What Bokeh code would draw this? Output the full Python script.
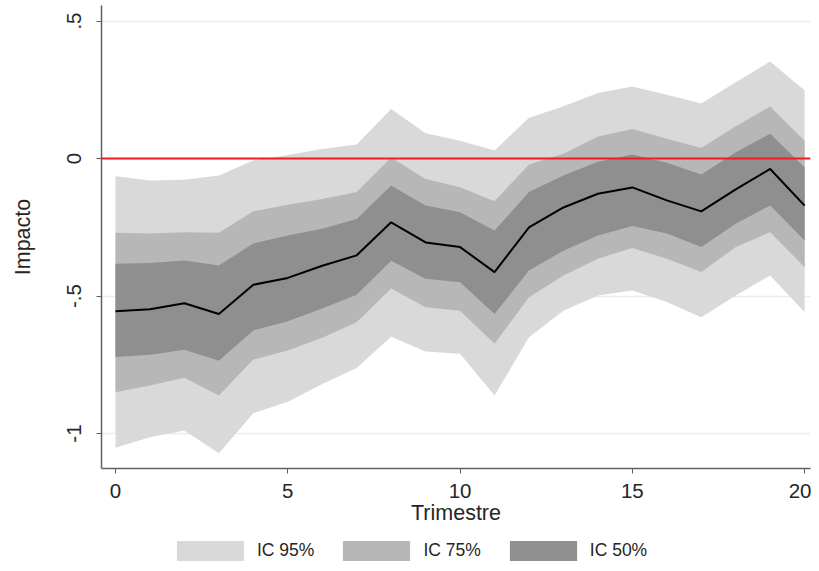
from bokeh.plotting import figure
from bokeh.models import (ColumnDataSource, Span, FixedTicker, Legend, LegendItem)
from bokeh.layouts import column
from bokeh.embed import file_html
from bokeh.resources import INLINE

# ---- data ----
trimestre = list(range(21))
impacto = [-0.555, -0.548, -0.526, -0.565, -0.459, -0.434, -0.390, -0.352, -0.232, -0.305, -0.322,
           -0.413, -0.250, -0.178, -0.128, -0.105, -0.152, -0.192, -0.112, -0.038, -0.171]
ic50_hi = [-0.383, -0.380, -0.371, -0.389, -0.309, -0.280, -0.255, -0.220, -0.098, -0.171, -0.195,
           -0.262, -0.122, -0.062, -0.012, 0.015, -0.015, -0.058, 0.023, 0.090, -0.033]
ic50_lo = [-0.722, -0.713, -0.695, -0.735, -0.625, -0.592, -0.545, -0.495, -0.372, -0.437, -0.450,
           -0.565, -0.407, -0.335, -0.280, -0.245, -0.273, -0.322, -0.237, -0.171, -0.298]
ic75_hi = [-0.270, -0.273, -0.268, -0.270, -0.192, -0.168, -0.147, -0.122, 0.004, -0.074, -0.104,
           -0.155, -0.022, 0.017, 0.080, 0.107, 0.072, 0.038, 0.117, 0.189, 0.065]
ic75_lo = [-0.850, -0.825, -0.797, -0.862, -0.731, -0.698, -0.652, -0.595, -0.473, -0.541, -0.553,
           -0.673, -0.504, -0.425, -0.364, -0.325, -0.364, -0.413, -0.322, -0.268, -0.395]
ic95_hi = [-0.064, -0.080, -0.077, -0.062, -0.007, 0.013, 0.035, 0.051, 0.180, 0.092, 0.065,
           0.029, 0.148, 0.190, 0.238, 0.262, 0.232, 0.200, 0.277, 0.353, 0.247]
ic95_lo = [-1.052, -1.013, -0.989, -1.072, -0.926, -0.884, -0.820, -0.762, -0.648, -0.702, -0.710,
           -0.862, -0.650, -0.553, -0.498, -0.480, -0.522, -0.577, -0.498, -0.425, -0.559]

x_ticks = [0, 5, 10, 15, 20]
y_ticks = [-1, -0.5, 0, 0.5]
y_tick_labels = {-1: "-1", -0.5: "-.5", 0: "0", 0.5: ".5"}
labels = ["IC 95%", "IC 75%", "IC 50%"]
band_cols = [("l95", "h95"), ("l75", "h75"), ("l50", "h50")]
band_colors = ["#d9d9d9", "#b7b7b7", "#8f8f8f"]

src = ColumnDataSource(dict(t=trimestre, m=impacto, h50=ic50_hi, l50=ic50_lo,
                            h75=ic75_hi, l75=ic75_lo, h95=ic95_hi, l95=ic95_lo))

FONT = "Liberation Sans"
TXT = "#262626"

p = figure(width=811, height=532, output_backend="svg", toolbar_location=None,
           x_range=(-0.406, 20.17), y_range=(-1.127, 0.5564),
           min_border_left=101, min_border_right=1, min_border_top=5, min_border_bottom=64)
p.outline_line_color = None
p.background_fill_color = "white"
p.border_fill_color = "white"

for (lo, hi), col in zip(band_cols, band_colors):
    p.varea(x="t", y1=lo, y2=hi, source=src, fill_color=col)
p.line(x="t", y="m", source=src, line_color="black", line_width=2)

p.add_layout(Span(location=0, dimension="width", line_color="#f01e1e", line_width=2))

# axes
p.xaxis.ticker = FixedTicker(ticks=x_ticks)
p.yaxis.ticker = FixedTicker(ticks=y_ticks)
p.yaxis.major_label_overrides = y_tick_labels
p.yaxis.major_label_orientation = "vertical"
p.xaxis.axis_label = "Trimestre"
p.yaxis.axis_label = "Impacto"
for ax in (p.xaxis, p.yaxis):
    ax.axis_line_color = "#606060"
    ax.axis_line_width = 1.5
    ax.major_tick_line_color = "#606060"
    ax.major_tick_out = 5
    ax.major_tick_in = 0
    ax.minor_tick_line_color = None
    ax.major_label_text_font = FONT
    ax.major_label_text_font_size = "20.5px"
    ax.major_label_text_color = TXT
    ax.axis_label_text_font = FONT
    ax.axis_label_text_font_size = "21.5px"
    ax.axis_label_text_font_style = "normal"
    ax.axis_label_text_color = TXT
p.xaxis.major_label_standoff = 10
p.xaxis.axis_label_standoff = 0
p.yaxis.major_label_standoff = 15
p.yaxis.axis_label_standoff = 30

p.xgrid.grid_line_color = None
p.ygrid.grid_line_color = "#ebebeb"
p.ygrid.grid_line_width = 1.5

# legend strip beneath the chart (its bands lie outside its view; only the keys show)
lg = figure(width=811, height=31, output_backend="svg", toolbar_location=None,
            x_range=(0, 1), y_range=(10, 11), min_border=0)
lg.axis.visible = False
lg.grid.visible = False
lg.outline_line_color = None
lg.border_fill_color = "white"
lg.background_fill_color = "white"
items = []
for lab, (lo, hi), col in zip(labels, band_cols, band_colors):
    r = lg.varea(x="t", y1=lo, y2=hi, source=src, fill_color=col)
    items.append(LegendItem(label=lab, renderers=[r]))
legend = Legend(items=items, orientation="horizontal", location=(67, 0),
                glyph_width=84, glyph_height=25, label_standoff=5, spacing=20,
                label_text_font=FONT, label_text_font_size="17.5px", label_text_color=TXT,
                background_fill_alpha=0, border_line_color=None, padding=0, margin=0)
lg.add_layout(legend)

layout = column(p, lg, spacing=0)
open("out.html", "w").write(file_html(layout, INLINE))
